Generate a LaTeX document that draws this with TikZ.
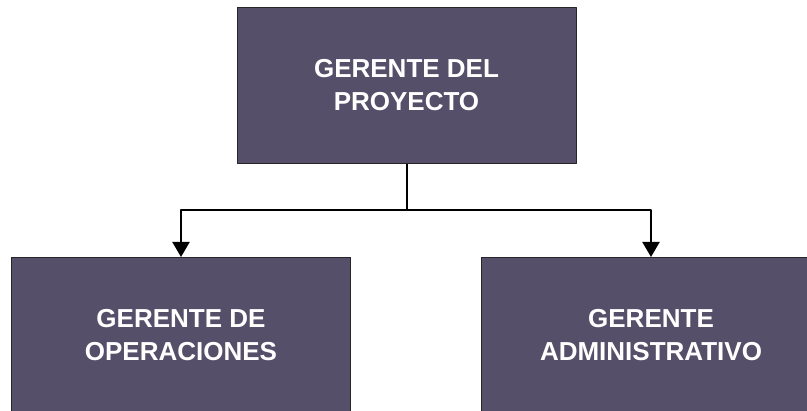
\documentclass[tikz,border=0pt]{standalone}
\usepackage{fontspec}
\setmainfont{Liberation Sans}
\usetikzlibrary{arrows.meta}
\definecolor{cajacolor}{RGB}{86,79,105}
\begin{document}
\begin{tikzpicture}[x=1pt,y=-1pt,line join=round,>={Triangle[length=15pt,width=17pt]}]
	\tikzset{cargo/.style={draw=black!85,line width=1pt,fill=cajacolor,text=white,align=center,
		minimum width=339pt,minimum height=156pt,inner sep=0pt,
		font=\fontsize{26pt}{33pt}\selectfont\bfseries}}
	\useasboundingbox (0,0) rectangle (807,411);
	\clip (0,0) rectangle (807,411);
	\node[cargo] (gerente) at (406.5,85.5) {GERENTE DEL\\PROYECTO};
	\node[cargo] (operaciones) at (181,335.5) {GERENTE DE\\OPERACIONES};
	\node[cargo] (administrativo) at (651,335.5) {GERENTE\\ADMINISTRATIVO};
	\coordinate (rama) at (406.5,210);
	\draw[line width=2pt] (gerente.south) -- (rama);
	\draw[line width=2pt,->] (rama) -| (operaciones.north);
	\draw[line width=2pt,->] (rama) -| (administrativo.north);
\end{tikzpicture}
\end{document}
